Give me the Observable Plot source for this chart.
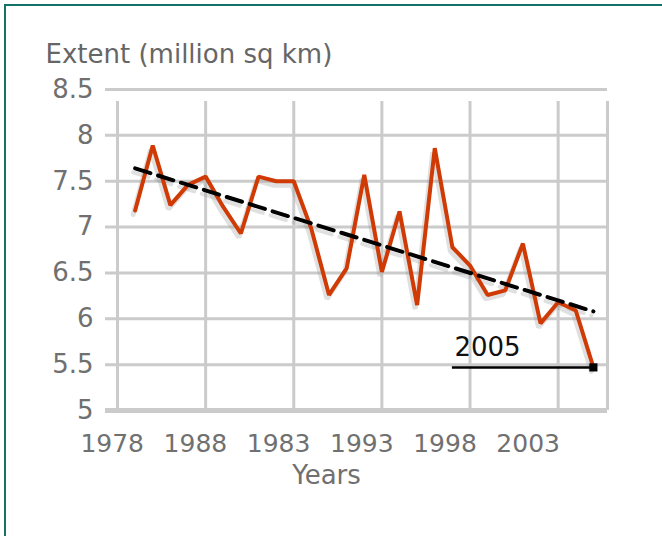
<!DOCTYPE html>
<html><head><meta charset="utf-8">
<script src="https://cdn.jsdelivr.net/npm/d3@7"></script>
<script src="https://cdn.jsdelivr.net/npm/@observablehq/plot@0.6"></script>
<style>
html,body{margin:0;padding:0;background:#fff;}
#wrap{position:relative;width:662px;height:536px;overflow:hidden;}
#frame{position:absolute;left:4px;top:4px;width:720px;height:620px;border-top:2px solid #137268;border-left:2px solid #137268;}
#chart{position:absolute;left:0;top:0;}
</style></head><body>
<div id="wrap"><div id="frame"></div><div id="chart"></div></div>
<script>
// Data
const years = [1979,1980,1981,1982,1983,1984,1985,1986,1987,1988,1989,1990,1991,1992,1993,1994,1995,1996,1997,1998,1999,2000,2001,2002,2003,2004,2005];
const extent = [7.18,7.89,7.24,7.46,7.55,7.22,6.93,7.55,7.50,7.50,6.98,6.26,6.55,7.57,6.51,7.17,6.15,7.86,6.78,6.58,6.26,6.31,6.82,5.95,6.18,6.09,5.47];
const trendYears = [1979, 2005];
const trendValues = [7.64, 6.08];
const xTickYears = [1978, 1983, 1988, 1993, 1998, 2003];
const xTickLabels = ["1978", "1988", "1983", "1993", "1998", "2003"];
const yTicks = [5, 5.5, 6, 6.5, 7, 7.5, 8, 8.5];
const yTickLabels = ["5", "5.5", "6", "6.5", "7", "7.5", "8", "8.5"];
const annoYear = 2005, annoValue = 5.47, annoFrom = 1997, annoLabel = "2005";
const title = "Extent (million sq km)";
const xTitle = "Years";

const xMin = 1978, xMax = 2005.8;
const series = years.map((y, i) => ({year: y, value: extent[i]}));
const trend = trendYears.map((y, i) => ({year: y, value: trendValues[i]}));
const grid = "#cbcbcb";
const red = "#cf3a05";

const chart = Plot.plot({
  width: 662, height: 536,
  marginLeft: 117, marginRight: 55, marginTop: 89, marginBottom: 126,
  x: {domain: [xMin, xMax], axis: null},
  y: {domain: [5, 8.5], axis: null},
  style: {fontFamily: "'DejaVu Sans', sans-serif", background: "transparent", overflow: "visible"},
  marks: [
    Plot.ruleY(yTicks.filter(d => d > 5), {y: d => d, x1: xMin, x2: xMax, stroke: grid, strokeWidth: 3, insetLeft: -12}),
    Plot.ruleX(xTickYears.concat([xMax]), {x: d => d, y1: 5, y2: 8.5, stroke: grid, strokeWidth: 3, insetBottom: -12}),
    Plot.ruleY([5], {y: d => d, x1: xMin, x2: xMax, stroke: grid, strokeWidth: 5, insetLeft: -12}),
    // shadows
    Plot.line(series, {x: "year", y: "value", stroke: "#999", strokeOpacity: 0.3, strokeWidth: 5, dx: -2, dy: 4, strokeLinejoin: "miter"}),
    Plot.line(trend, {x: "year", y: "value", stroke: "#999", strokeOpacity: 0.3, strokeWidth: 4, dx: -2, dy: 4, strokeDasharray: "16,8"}),
    Plot.line(series, {x: "year", y: "value", stroke: red, strokeWidth: 4, strokeLinejoin: "miter"}),
    Plot.line(trend, {x: "year", y: "value", stroke: "#000", strokeWidth: 4, strokeDasharray: "16,8"}),
    // annotation
    Plot.ruleY([annoValue], {y: d => d, x1: annoFrom, x2: annoYear, stroke: "#000", strokeWidth: 2.5}),
    Plot.dot([annoValue], {x: annoYear, y: d => d, symbol: "square", fill: "#000", r: 4.6}),
    Plot.text([annoLabel], {x: annoFrom, y: annoValue, text: d => d, dx: 2, dy: -20, textAnchor: "start", lineAnchor: "middle", fill: "#111", fontSize: 26}),
    // tick labels
    Plot.text(yTicks, {x: xMin, y: d => d, text: (d, i) => yTickLabels[i], dx: -24, textAnchor: "end", lineAnchor: "middle", fill: "#707070", fontSize: 26}),
    Plot.text(xTickYears, {x: (d, i) => d - 0.3 - 0.28 * i, y: 5, text: (d, i) => xTickLabels[i], dy: 33, lineAnchor: "middle", fill: "#707070", fontSize: 25}),
    Plot.text([xTitle], {frameAnchor: "bottom", text: d => d, dx: -36, dy: 65, lineAnchor: "middle", fill: "#707070", fontSize: 26}),
    Plot.text([title], {frameAnchor: "top-left", text: d => d, dx: -72, dy: -35, textAnchor: "start", lineAnchor: "middle", fill: "#666", fontSize: 26})
  ]
});
document.getElementById("chart").appendChild(chart);
</script>
</body></html>
